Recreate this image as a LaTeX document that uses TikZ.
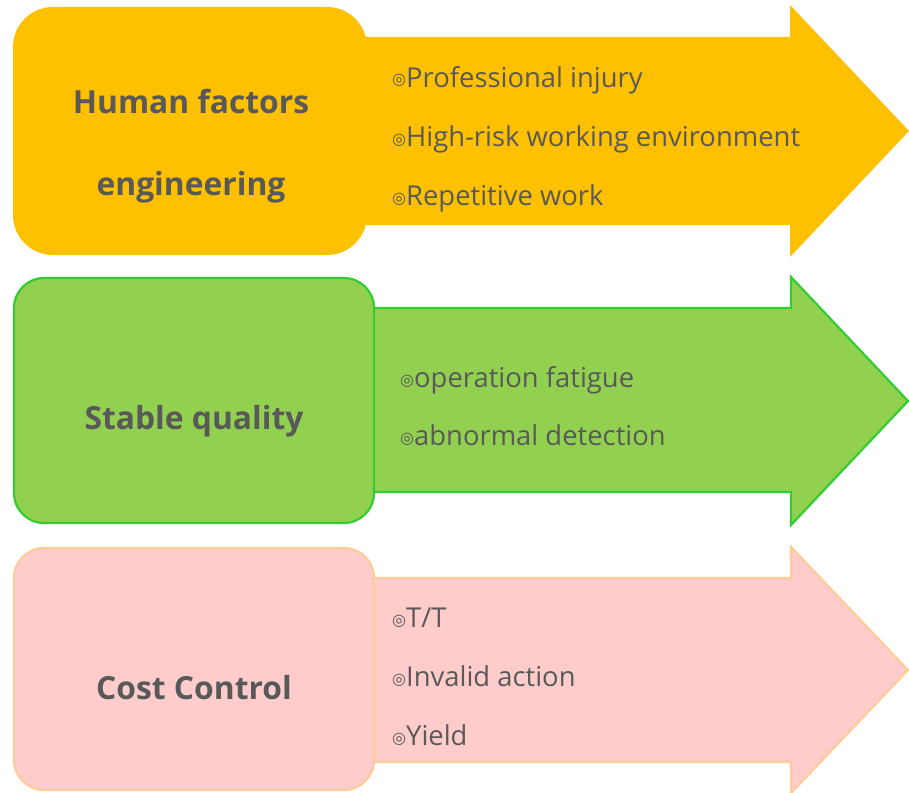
\documentclass[tikz,border=0pt]{standalone}
\usepackage{fontspec}
\setmainfont{Open Sans}
\newfontfamily\bulletfont{DejaVu Sans}
\definecolor{hfyellow}{HTML}{FFC000}
\definecolor{sqgreen}{HTML}{92D050}
\definecolor{sqedge}{HTML}{33CC33}
\definecolor{ccpink}{HTML}{FFCCCC}
\definecolor{ccedge}{HTML}{FFCC99}
\definecolor{txtgray}{HTML}{595959}
\newcommand{\bul}{\raisebox{2pt}{\bulletfont\fontsize{16}{16}\selectfont ◎}}
\tikzset{
  headtext/.style={font=\bfseries\fontsize{31.8}{36}\selectfont, text=txtgray, anchor=base, inner sep=0pt},
  itemtext/.style={font=\fontsize{27.4}{32}\selectfont, text=txtgray, anchor=base west, inner sep=0pt},
}
\begin{document}
\begin{tikzpicture}[x=1pt, y=-1pt, line join=miter]
	\useasboundingbox (0,0) rectangle (909,792);
	% human factors
	\fill[hfyellow] (300,37)--(790,37)--(790,5)--(909,131)--(790,257)--(790,225)--(300,225)--cycle;
	\fill[hfyellow, rounded corners=40pt] (13,7) rectangle (367,255);
	% stable quality
	\filldraw[fill=sqgreen, draw=sqedge, line width=2.2pt] (300,308)--(791,308)--(791,277)--(908,401)--(791,525)--(791,492)--(300,492)--cycle;
	\filldraw[fill=sqgreen, draw=sqedge, line width=2.2pt, rounded corners=30pt] (14,278) rectangle (374,523);
	% cost control
	\filldraw[fill=ccpink, draw=ccedge, line width=2.2pt] (300,578)--(791,578)--(791,547)--(908,670)--(791,793)--(791,762)--(300,762)--cycle;
	\filldraw[fill=ccpink, draw=ccedge, line width=2.2pt, rounded corners=30pt] (14,548) rectangle (374,790);

	\node[headtext] (hf1) at (191,113) {Human factors};
	\node[headtext] (hf2) at (191,195) {engineering};
	\node[headtext] (sq) at (194,429) {Stable quality};
	\node[headtext] (cc) at (194,699) {Cost Control};

	\foreach \t [count=\i] in {Professional injury, High-risk working environment, Repetitive work}
	{
		\node[itemtext] (hfitem\i) at (392,28+59*\i) {\bul\t};
	}
	\foreach \t [count=\i] in {operation fatigue, abnormal detection}
	{
		\node[itemtext] (sqitem\i) at (400,329+58*\i) {\bul\t};
	}
	\foreach \t [count=\i] in {T/T, Invalid action, Yield}
	{
		\node[itemtext] (ccitem\i) at (392,568+59*\i) {\bul\t};
	}
\end{tikzpicture}
\end{document}
